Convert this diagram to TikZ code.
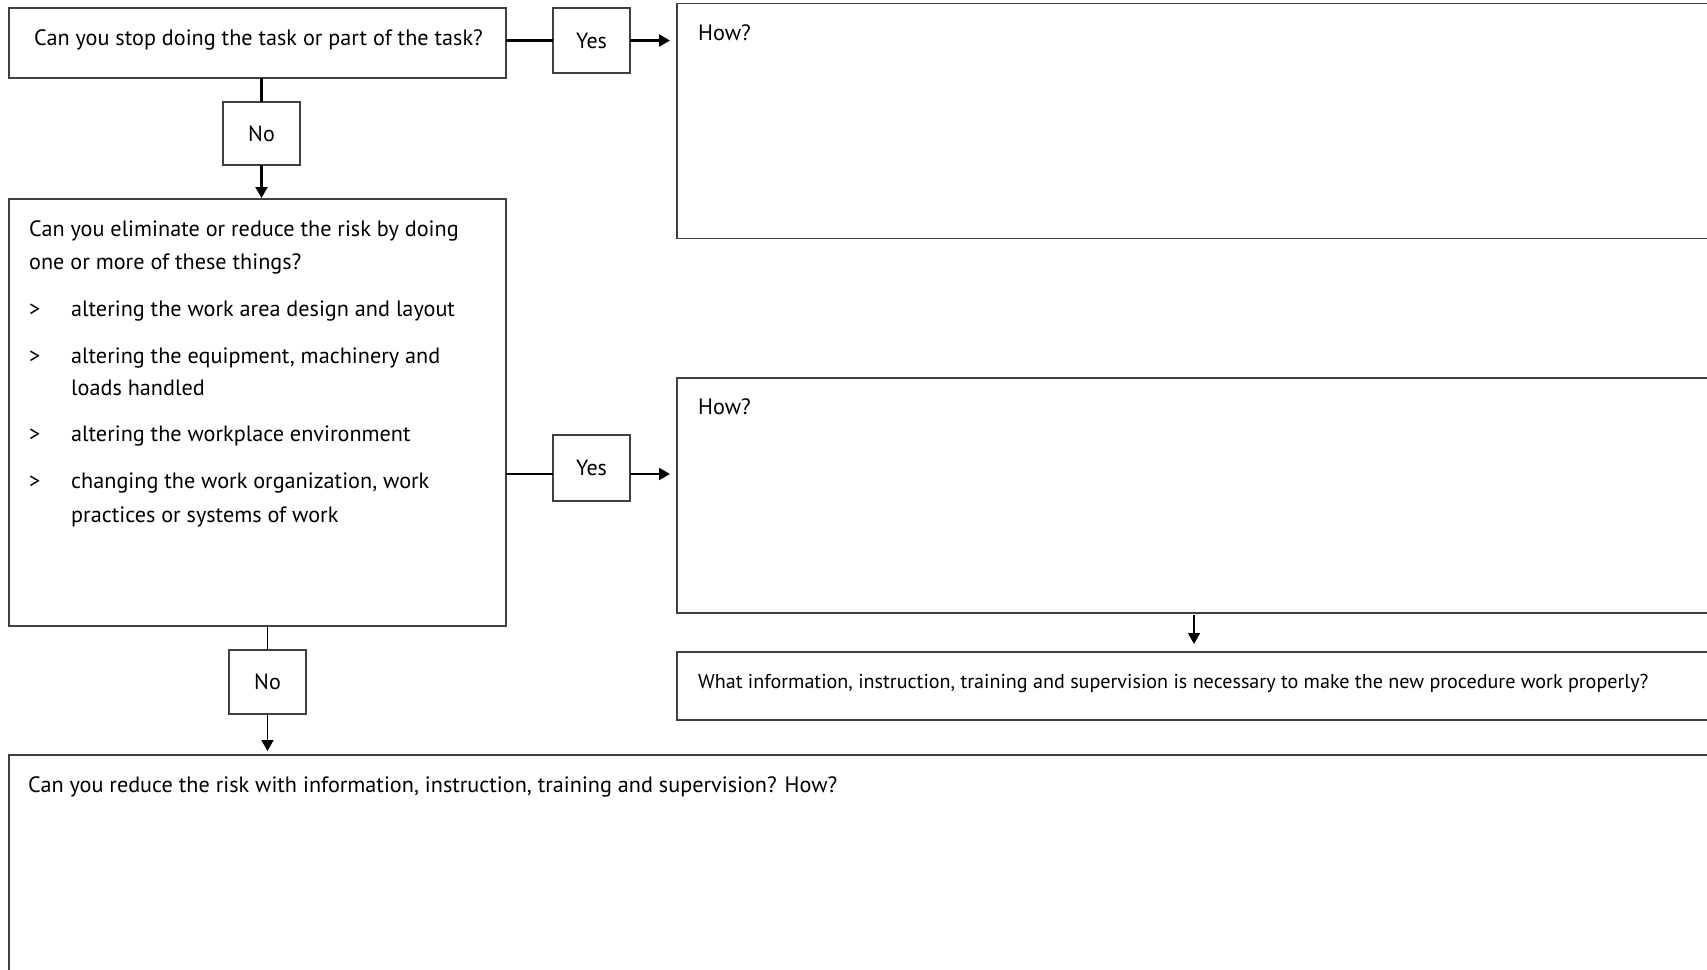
\documentclass[tikz,border=0pt]{standalone}
\usepackage{fontspec}
\setmainfont{PT Sans}
\usetikzlibrary{arrows.meta}
\begin{document}
\begin{tikzpicture}[x=1pt,y=-1pt,
  box/.style={draw=black!75, line width=1.2pt, inner sep=0pt, outer sep=0pt, anchor=north west},
  small/.style={draw=black!75, line width=1.2pt, inner sep=0pt, outer sep=0pt, anchor=center,
                font=\fontsize{22}{26}\selectfont},
  lbl/.style={font=\fontsize{22.2}{26}\selectfont, inner sep=0pt, anchor=base west},
  lblsm/.style={font=\fontsize{20.1}{24}\selectfont, inner sep=0pt, anchor=base west},
  conn/.style={line width=2.2pt, black},
  arr/.style={conn, -{Triangle[length=11pt,width=12pt]}},
]
\useasboundingbox (0,0) rectangle (1707,969);
\fill[white] (0,0) rectangle (1707,969);

% boxes
\node[box, minimum width=497pt, minimum height=70pt] (q1) at (9,8) {};
\node[small, minimum width=77pt, minimum height=65pt] (yes1) at (591.5,40.5) {Yes};
\node[box, minimum width=1100pt, minimum height=235pt] (how1) at (677,3.5) {};
\node[small, minimum width=77pt, minimum height=63pt] (no1) at (261.5,133.5) {No};
\node[box, minimum width=497pt, minimum height=427pt] (q2) at (9,199) {};
\node[small, minimum width=77pt, minimum height=66pt] (yes2) at (591.5,468) {Yes};
\node[box, minimum width=1100pt, minimum height=235pt] (how2) at (677,378) {};
\node[box, minimum width=1100pt, minimum height=68pt] (info) at (677,652) {};
\node[small, minimum width=77pt, minimum height=64pt] (no2) at (267.5,682) {No};
\node[box, minimum width=1760pt, minimum height=400pt] (q3) at (9,755) {};

% texts
\node[lbl] (t1) at (34,45) {Can you stop doing the task or part of the task?};
\node[lbl] (t2) at (698,40) {How?};
\node[lbl] (t3) at (29,236) {Can you eliminate or reduce the risk by doing};
\node[lbl] (t4) at (29,269) {one or more of these things?};
\node[lbl] (g1) at (29,316) {>};
\node[lbl] (b1) at (71,316) {altering the work area design and layout};
\node[lbl] (g2) at (29,363) {>};
\node[lbl] (b2) at (71,363) {altering the equipment, machinery and};
\node[lbl] (b2b) at (71,395) {loads handled};
\node[lbl] (g3) at (29,441) {>};
\node[lbl] (b3) at (71,441) {altering the workplace environment};
\node[lbl] (g4) at (29,488) {>};
\node[lbl] (b4) at (71,488) {changing the work organization, work};
\node[lbl] (b4b) at (71,522) {practices or systems of work};
\node[lbl] (t5) at (698,414) {How?};
\node[lblsm] (t6) at (698,688) {What information, instruction, training and supervision is necessary to make the new procedure work properly?};
\node[lbl] (t7) at (28,792) {Can you reduce the risk with information, instruction, training and supervision? How?};

% connectors
\coordinate (h2b) at (1194,613);
\draw[conn] (q1.east |- yes1.west) -- (yes1.west);
\draw[arr, shorten >=7pt] (yes1.east) -- (yes1.east -| how1.west);
\draw[conn] (no1.north |- q1.south) -- (no1.north);
\draw[arr, shorten >=1pt] (no1.south) -- (no1.south |- q2.north);
\draw[conn] ([yshift=-6pt]yes2.west -| q2.east) -- ([yshift=-6pt]yes2.west);
\draw[arr, shorten >=7pt] ([yshift=-6pt]yes2.east) -- ([yshift=-6pt]yes2.east -| how2.west);
\draw[arr, line width=1.6pt, shorten >=8pt, shorten <=2pt] (h2b) -- (h2b |- info.north);
\draw[conn, line width=1.6pt] (no2.north |- q2.south) -- (no2.north);
\draw[arr, line width=1.6pt, shorten >=4pt] (no2.south) -- (no2.south |- q3.north);
\end{tikzpicture}
\end{document}
